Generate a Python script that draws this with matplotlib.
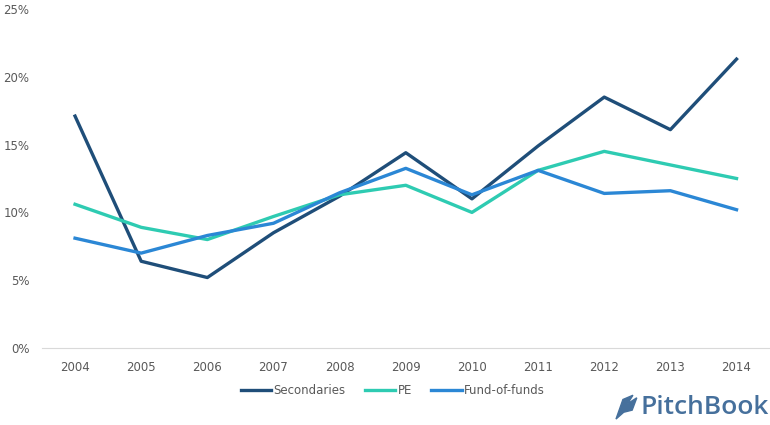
import numpy as np
import matplotlib.pyplot as plt
from matplotlib.patches import Polygon

years = [2004, 2005, 2006, 2007, 2008, 2009, 2010, 2011, 2012, 2013, 2014]
secondaries = [17.1, 6.4, 5.2, 8.5, 11.2, 14.4, 11.0, 14.9, 18.5, 16.1, 21.3]
pe = [10.6, 8.9, 8.0, 9.7, 11.3, 12.0, 10.0, 13.1, 14.5, 13.5, 12.5]
fund_of_funds = [8.1, 7.0, 8.3, 9.2, 11.45, 13.25, 11.3, 13.1, 11.4, 11.6, 10.2]

fig = plt.figure(figsize=(7.7, 4.25), dpi=100)
ax = fig.add_axes([0.0545, 0.181, 0.945, 0.798])

x = np.arange(len(years))
ax.plot(x, secondaries, color='#1f4e79', lw=2.4, label='Secondaries')
ax.plot(x, pe, color='#2ecbb2', lw=2.4, label='PE')
ax.plot(x, fund_of_funds, color='#2b87d5', lw=2.4, label='Fund-of-funds')

ax.set_xlim(-0.5, len(years) - 0.5)
ax.set_ylim(0, 25)
ax.set_xticks(x)
ax.set_xticklabels([str(y) for y in years])
ax.set_yticks(range(0, 26, 5))
ax.set_yticklabels([f'{v}%' for v in range(0, 26, 5)])

for s in ['top', 'right', 'left']:
    ax.spines[s].set_visible(False)
ax.spines['bottom'].set_color('#d9d9d9')
ax.tick_params(length=0, colors='#595959', labelsize=8.5)
ax.tick_params(axis='x', pad=9)
ax.tick_params(axis='y', pad=9)

fig.legend(loc='center', bbox_to_anchor=(0.51, 0.082), ncol=3, frameon=False,
           fontsize=8.5, labelcolor='#595959', handlelength=2.6, handletextpad=0.2,
           columnspacing=1.6)

# logo
fig.text(0.998, 0.04, 'PitchBook', ha='right', va='center', fontsize=19,
         color='#46709c', family='Open Sans', weight='semibold')
icon = Polygon([(0.800, 0.014), (0.809, 0.060), (0.822, 0.070), (0.815, 0.050),
                (0.827, 0.064), (0.821, 0.035), (0.810, 0.030)],
               closed=True, transform=fig.transFigure, color='#46709c')
fig.patches.append(icon)

fig.savefig('out.png', dpi=100)
